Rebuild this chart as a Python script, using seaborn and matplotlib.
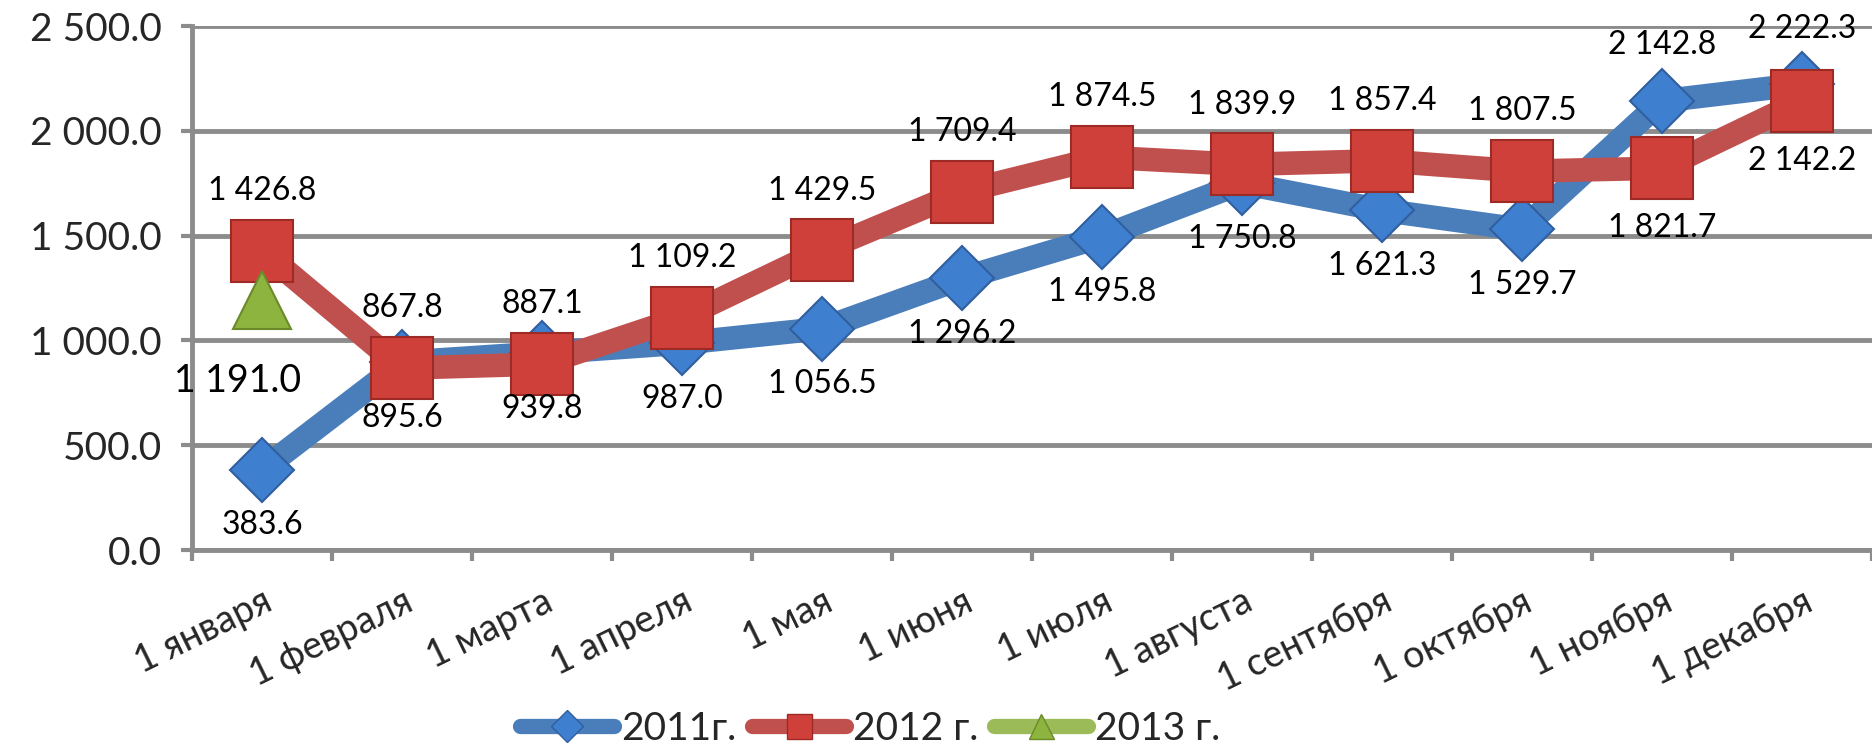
import matplotlib
matplotlib.use('Agg')
import matplotlib.pyplot as plt
import numpy as np
import seaborn as sns
from matplotlib.lines import Line2D

months = ['1 января', '1 февраля', '1 марта', '1 апреля', '1 мая', '1 июня',
          '1 июля', '1 августа', '1 сентября', '1 октября', '1 ноября', '1 декабря']
values_2011 = [383.6, 895.6, 939.8, 987.0, 1056.5, 1296.2,
               1495.8, 1750.8, 1621.3, 1529.7, 2142.8, 2222.3]
values_2012 = [1426.8, 867.8, 887.1, 1109.2, 1429.5, 1709.4,
               1874.5, 1839.9, 1857.4, 1807.5, 1821.7, 2142.2]
values_2013 = [1191.0]
# label position per point: 1 = above, -1 = below
side_2011 = [-1] * 10 + [1, 1]
side_2012 = [1] * 10 + [-1, -1]
yticks = [0, 500, 1000, 1500, 2000, 2500]


def fmt(v):
    return f'{v:,.1f}'.replace(',', ' ')


sns.set_theme(style='white')
plt.rcParams['font.family'] = ['Lato', 'DejaVu Sans']

blue, red, green = '#4A7EBB', '#C0504D', '#9BBB59'
grid_col = '#8C8C8C'

fig = plt.figure(figsize=(18.72, 7.55), dpi=100)
ax = fig.add_axes([0.1027, 0.2715, 0.8973, 0.694])

x_all = np.arange(len(months))
sns.lineplot(x=x_all, y=values_2011, ax=ax, color=blue, linewidth=17,
             marker='D', markersize=33, markerfacecolor='#3F7FCF',
             markeredgecolor='#2F5F9F', markeredgewidth=1.5, zorder=3)
sns.lineplot(x=x_all, y=values_2012, ax=ax, color=red, linewidth=17,
             marker='s', markersize=44, markerfacecolor='#D0403A',
             markeredgecolor='#9E2A26', markeredgewidth=1.5, zorder=4)
ax.plot(x_all[:len(values_2013)], values_2013, color=green, linewidth=17,
        marker='^', markersize=42, markerfacecolor='#8DB43E',
        markeredgecolor='#6A8A2A', markeredgewidth=1.5, zorder=5)

for xi, v, s in zip(x_all, values_2011, side_2011):
    ax.annotate(fmt(v), (xi, v), xytext=(0, 40 * s), textcoords='offset points',
                ha='center', va='center', fontsize=23, color='black',
                annotation_clip=False, zorder=6)
for xi, v, s in zip(x_all, values_2012, side_2012):
    ax.annotate(fmt(v), (xi, v), xytext=(0, 43 * s), textcoords='offset points',
                ha='center', va='center', fontsize=23, color='black',
                annotation_clip=False, zorder=6)
for xi, v in zip(x_all, values_2013):
    ax.annotate(fmt(v), (xi, v), xytext=(-18, -58), textcoords='offset points',
                ha='center', va='center', fontsize=27, color='black',
                annotation_clip=False, zorder=6)

ax.set_xlim(-0.5, len(months) - 0.5)
ax.set_ylim(0, 2500)
ax.set_yticks(yticks)
ax.set_yticklabels([fmt(t) for t in yticks], fontsize=28)
ax.yaxis.grid(True, color=grid_col, linewidth=3.5)
ax.set_axisbelow(True)

ax.set_xticks(x_all)
ax.set_xticklabels(months, rotation=26, ha='right', rotation_mode='anchor',
                   fontsize=27)
ax.set_xticks(np.arange(-0.5, len(months), 1), minor=True)
ax.tick_params(axis='x', which='major', length=0, pad=24)
ax.tick_params(axis='x', which='minor', length=8, width=3, color=grid_col,
               direction='out', bottom=True)
ax.tick_params(axis='y', length=8, width=3, color=grid_col, left=True, pad=14)

for name in ['top', 'right']:
    ax.spines[name].set_visible(False)
for name in ['left', 'bottom']:
    ax.spines[name].set_color(grid_col)
    ax.spines[name].set_linewidth(3.5)
ax.set_xlabel('')
ax.set_ylabel('')

handles = [
    Line2D([], [], color=blue, linewidth=11, marker='D', markersize=16,
           markerfacecolor='#3F7FCF', markeredgecolor='#2F5F9F'),
    Line2D([], [], color=red, linewidth=11, marker='s', markersize=18,
           markerfacecolor='#D0403A', markeredgecolor='#9E2A26'),
    Line2D([], [], color=green, linewidth=11, marker='^', markersize=18,
           markerfacecolor='#8DB43E', markeredgecolor='#6A8A2A'),
]
fig.legend(handles, ['2011г.', '2012 г.', '2013 г.'], loc='center',
           bbox_to_anchor=(0.465, 0.035), ncol=3, frameon=False, fontsize=28,
           handlelength=2.4, handletextpad=0.2, columnspacing=0.4)

fig.savefig('out.png', dpi=100)
plt.close(fig)
